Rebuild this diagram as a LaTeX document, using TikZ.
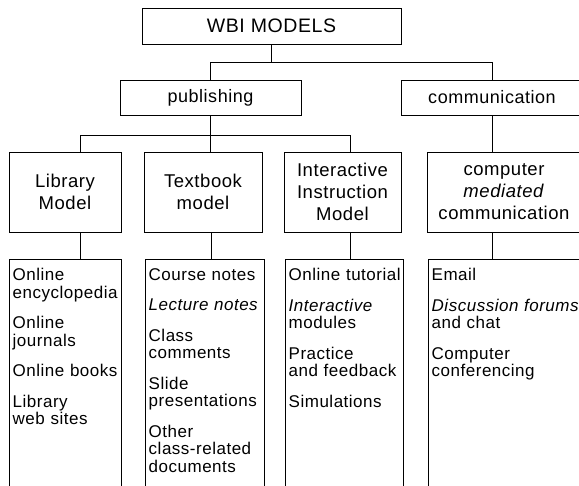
\documentclass[tikz,border=0pt]{standalone}
\usepackage{fontspec}
\setmainfont{Liberation Sans}[LetterSpace=3]
\usetikzlibrary{calc}
\newcommand\listfont{\fontsize{17}{17.5}\selectfont\spaceskip=0.33em plus 0.1em\relax}
\begin{document}
\begin{tikzpicture}[x=1pt,y=-1pt,
  frame/.style={draw, line width=0.95pt, inner sep=0pt},
  hd/.style={font=\fontsize{18}{22}\selectfont, align=center},
  mdl/.style={font=\fontsize{18.5}{22}\selectfont, align=center},
  lst/.style={font=\listfont, align=left, anchor=north west, inner sep=0pt},
  link/.style={line width=0.95pt}]
\useasboundingbox (0,0) rectangle (579,486);
\clip (0,0) rectangle (579,486);

% top level
\node[frame, font=\fontsize{19.5}{22}\selectfont, minimum width=259pt, minimum height=36pt] (wbi) at (271.5,26) {WBI MODELS};

% second level
\node[frame, hd, minimum width=181pt, minimum height=35pt] (pub) at (210.5,97.5) {publishing};
\node[frame, hd, minimum width=182pt, minimum height=35pt] (comm) at (492,97.5) {communication};

% model boxes
\node[frame, mdl, minimum width=112pt, minimum height=80pt] (lib) at (65,192) {Library\\Model};
\node[frame, mdl, minimum width=118pt, minimum height=80pt] (tb) at (203,192) {Textbook\\model};
\node[frame, mdl, minimum width=117pt, minimum height=80pt] (ii) at (342.5,192) {Interactive\\Instruction\\Model};
\node[frame, mdl, minimum width=154pt, minimum height=80pt] (cmc) at (504,192) {computer\\\textit{mediated}\\communication};

% list boxes (running past the lower edge)
\node[frame, minimum width=112pt, minimum height=240pt] (llib) at (65,379) {};
\node[frame, minimum width=119pt, minimum height=240pt] (ltb) at (204.5,379) {};
\node[frame, minimum width=118pt, minimum height=240pt] (lii) at (344,379) {};
\node[frame, minimum width=154pt, minimum height=240pt] (lcmc) at (505,379) {};

% list texts
\node[lst] (tlib) at ([xshift=4pt,yshift=-9.6pt]llib.north west)
  {Online\\encyclopedia\\[13pt]Online\\journals\\[13pt]Online books\\[13pt]Library\\web sites};
\node[lst] (ttb) at ([xshift=4pt,yshift=-9.6pt]ltb.north west)
  {Course notes\\[13pt]\textit{Lecture notes}\\[13pt]Class\\comments\\[13pt]Slide\\presentations\\[13pt]Other\\class-related\\documents};
\node[lst] (tii) at ([xshift=4pt,yshift=-9.6pt]lii.north west)
  {Online tutorial\\[13pt]\textit{Interactive}\\modules\\[13pt]Practice\\and feedback\\[13pt]Simulations};
\node[lst] (tcmc) at ([xshift=4pt,yshift=-9.6pt]lcmc.north west)
  {Email\\[13pt]\textit{Discussion forums}\\and chat\\[13pt]Computer\\conferencing};

% connectors
\draw[link] (wbi.south) -- ++(0,18) -| (pub.north);
\draw[link] (wbi.south) -- ++(0,18) -| (comm.north);
\draw[link] (pub.south) -- ++(0,20) -| ($(lib.north west)!0.634!(lib.north east)$);
\draw[link] (pub.south) -- ++(0,20) -| ($(ii.north west)!0.564!(ii.north east)$);
\draw[link] (pub.south) -- (pub.south |- tb.north);
\draw[link] (comm.south) -- (comm.south |- cmc.north);
\draw[link] ($(lib.south west)!0.634!(lib.south east)$) coordinate (c1) -- (c1 |- llib.north);
\draw[link] ($(tb.south west)!0.568!(tb.south east)$) coordinate (c2) -- (c2 |- ltb.north);
\draw[link] ($(ii.south west)!0.564!(ii.south east)$) coordinate (c3) -- (c3 |- lii.north);
\draw[link] (cmc.south -| comm.south) -- (comm.south |- lcmc.north);
\end{tikzpicture}
\end{document}
